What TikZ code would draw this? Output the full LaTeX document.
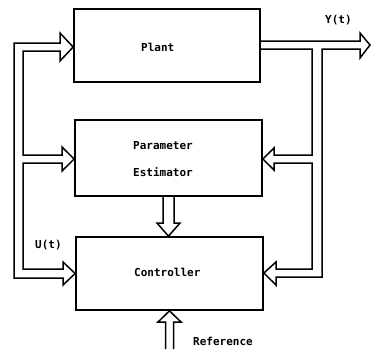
\documentclass[tikz,border=0pt]{standalone}
\usepackage{fontspec}
\setmonofont{DejaVu Sans Mono}
\begin{document}
\begin{tikzpicture}[x=1pt,y=-1pt,
  box/.style={draw,line width=1.7pt,rectangle,inner sep=0pt},
  bus/.style={draw,line width=1.5pt,line join=miter},
  lbl/.style={font=\ttfamily\bfseries\fontsize{11}{13}\selectfont,inner sep=0pt,anchor=west}]
\useasboundingbox (0,0) rectangle (371,349);
% boxes
\node[box,minimum width=186pt,minimum height=73pt] (plant) at (167,45.5) {};
\node[box,minimum width=187pt,minimum height=76pt] (est) at (168.5,158) {};
\node[box,minimum width=187pt,minimum height=73pt] (ctrl) at (169.5,273.5) {};
% labels
\node[lbl] (tplant) at (141,47) {Plant};
\node[lbl] (tpar) at (133,145.5) {Parameter};
\node[lbl] (test) at (133,172.5) {Estimator};
\node[lbl] (tctrl) at (134,272) {Controller};
\node[lbl] (tref) at (193,341) {Reference};
\node[lbl] (tu) at (35,245.5) {U(t)};
\node[lbl] (ty) at (325,20.5) {Y(t)};
% left bus (closed hollow double line with three heads)
\draw[bus] (14,278) -- (14,43) -- (60,43) -- (60,33) -- (plant.west |- 0,47) -- (60,61) -- (60,51)
  -- (23,51) -- (23,155) -- (62,155) -- (62,147) -- (est.west |- 0,159) -- (62,171) -- (62,163)
  -- (23,163) -- (23,269) -- (63,269) -- (63,262) -- (ctrl.west |- 0,273.5) -- (63,285) -- (63,278) -- cycle;
% right bus: plant output and feedback
\coordinate (yend) at (370,45);
\draw[bus] (plant.east |- 0,41) -- (360,41) -- (360,33) -- (yend) -- (360,58) -- (360,49)
  -- (322,49) -- (322,277) -- (276,277) -- (276,285) -- (ctrl.east |- 0,273) -- (276,262) -- (276,269)
  -- (312,269) -- (312,163) -- (274,163) -- (274,170) -- (est.east |- 0,159) -- (274,148) -- (274,155)
  -- (312,155) -- (312,49) -- (plant.east |- 0,49);
% estimator -> controller
\draw[bus] (est.south -| 163,0) -- (163,223) -- (157,223) -- (ctrl.north -| 168.5,0) -- (180,223) -- (174,223) -- (est.south -| 174,0);
% reference input
\draw[bus] (165.5,349) -- (165.5,322) -- (158,322) -- (ctrl.south -| 169.5,0) -- (181,322) -- (173.5,322) -- (173.5,349);
\end{tikzpicture}
\end{document}
